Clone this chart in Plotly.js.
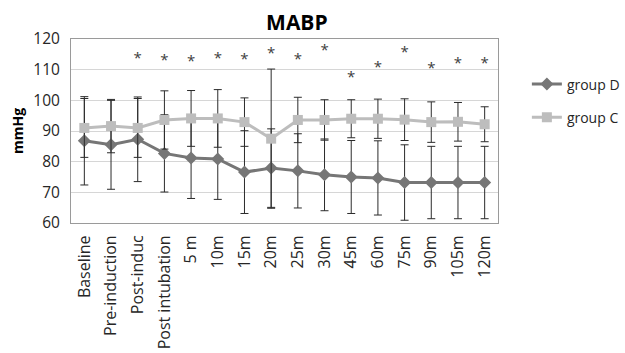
<!DOCTYPE html>
<html>
<head>
<meta charset="utf-8">
<script src="https://cdn.plot.ly/plotly-3.0.1.min.js"></script>
<style>html,body{margin:0;padding:0;background:#fff;}#chart{width:625px;height:353px;}</style>
</head>
<body>
<div id="chart"></div>
<script>
const categories = ["Baseline","Pre-induction","Post-induc","Post intubation","5 m","10m","15m","20m","25m","30m","45m","60m","75m","90m","105m","120m"];
const groupD = [86.8, 85.5, 87.3, 82.7, 81.2, 80.9, 76.6, 77.9, 77.0, 75.7, 75.0, 74.7, 73.2, 73.2, 73.2, 73.2];
const groupDsd = [14.4, 14.5, 13.8, 12.6, 13.2, 13.2, 13.5, 12.8, 12.1, 11.7, 11.9, 12.1, 12.3, 11.8, 11.8, 11.8];
const groupC = [91.0, 91.6, 91.0, 93.6, 94.1, 94.1, 92.9, 87.5, 93.6, 93.6, 94.0, 94.0, 93.7, 92.9, 93.0, 92.2];
const groupCsd = [9.6, 8.7, 9.6, 9.5, 9.1, 9.4, 7.9, 22.7, 7.4, 6.6, 6.2, 6.4, 6.8, 6.6, 6.3, 5.7];
const starY = [null, null, 115.2, 114.6, 114.3, 115.2, 114.9, 116.8, 114.8, 117.8, 108.9, 112.4, 117.1, 112.0, 113.5, 113.5];
const yTicks = [60, 70, 80, 90, 100, 110, 120];

const FONT = "'Open Sans', 'Noto Sans', sans-serif";
const starOffset = -1.8;

const traces = [
  {
    x: categories, y: groupD, name: "group D", type: "scatter", mode: "lines+markers",
    line: {color: "#767676", width: 3},
    marker: {symbol: "diamond", size: 10, color: "#767676"},
    error_y: {type: "data", array: groupDsd, visible: true, color: "#2b2b2b", thickness: 1, width: 4},
    legendgroup: "D"
  },
  {
    x: categories, y: groupC, name: "group C", type: "scatter", mode: "lines+markers",
    line: {color: "#bdbdbd", width: 3},
    marker: {symbol: "square", size: 10, color: "#bdbdbd"},
    error_y: {type: "data", array: groupCsd, visible: true, color: "#2b2b2b", thickness: 1, width: 4},
    legendgroup: "C"
  },
  {
    x: categories, y: starY.map(v => v === null ? null : v + starOffset), type: "scatter", mode: "text",
    text: starY.map(v => v === null ? "" : "*"),
    textfont: {family: FONT, size: 15, color: "#404040"},
    showlegend: false, hoverinfo: "skip"
  }
];

const layout = {
  width: 625, height: 353,
  margin: {l: 71, r: 127, t: 39, b: 130, autoexpand: false},
  paper_bgcolor: "#fff", plot_bgcolor: "#fff",
  font: {family: FONT, size: 14, color: "#262626"},
  title: {text: "<b>MABP</b>", font: {family: FONT, size: 21, color: "#000"},
          xref: "container", x: 0.475, xanchor: "center", yref: "container", y: 0.935, yanchor: "middle"},
  xaxis: {
    type: "category", range: [-0.5, 15.5], tickangle: -90,
    showgrid: false, showline: true, linecolor: "#9a9a9a", linewidth: 1, mirror: true,
    ticks: "", ticklabelstandoff: 5, tickfont: {family: FONT, size: 16, color: "#262626"}, zeroline: false
  },
  yaxis: {
    range: [60, 120], tickvals: yTicks, ticktext: yTicks.map(String),
    showgrid: true, gridcolor: "#d6d6d6", gridwidth: 1,
    showline: true, linecolor: "#9a9a9a", linewidth: 1, mirror: true,
    ticks: "", ticklabelstandoff: 7, tickfont: {family: FONT, size: 15.5, color: "#262626"}, zeroline: false,
    title: {text: "<b>mmHg</b>", font: {family: FONT, size: 14, color: "#000"}, standoff: 6}
  },
  showlegend: true,
  legend: {xref: "container", x: 0.843, xanchor: "left", y: 0.84, yanchor: "top", font: {family: FONT, size: 14, color: "#262626"},
           traceorder: "grouped", tracegroupgap: 12, bgcolor: "rgba(0,0,0,0)"}
};

Plotly.newPlot("chart", traces, layout, {displayModeBar: false, staticPlot: true});
</script>
</body>
</html>
